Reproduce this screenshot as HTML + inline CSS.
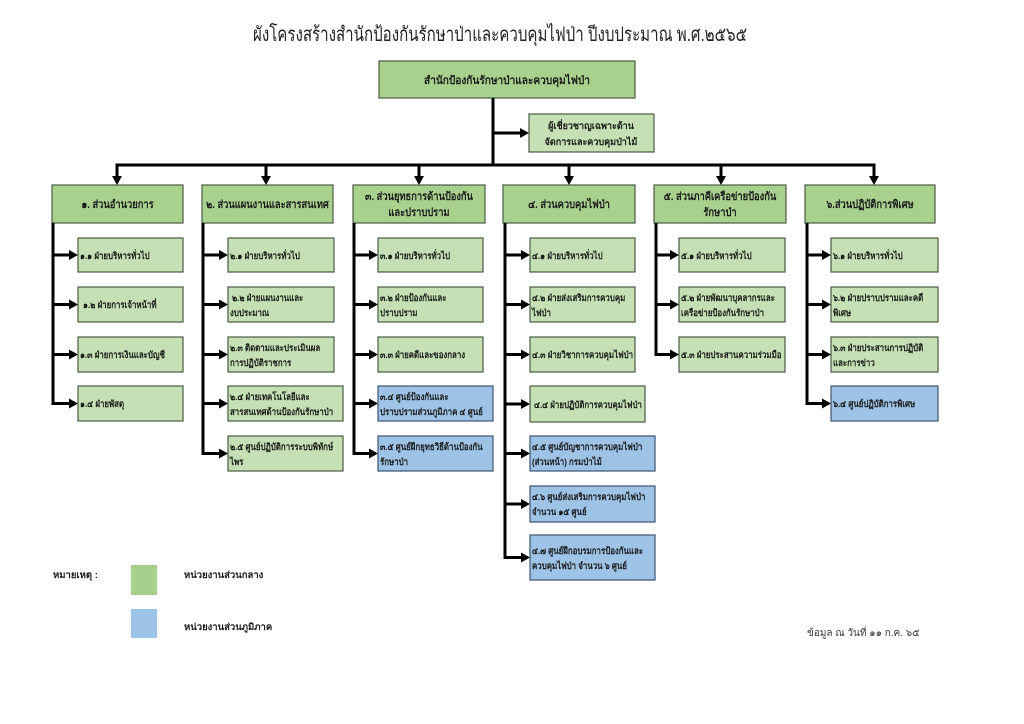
<!DOCTYPE html>
<html>
<head>
<meta charset="utf-8">
<style>
  html,body{margin:0;padding:0;background:#fff;}
  svg{display:block;}
  text{font-family:"Liberation Sans","DejaVu Sans",sans-serif;fill:#1a1a1a;}
  .t{font-size:20px;fill:#222;}
  .h{font-size:11px;font-weight:bold;text-anchor:middle;}
  .c{font-size:9.5px;font-weight:bold;}
  .g1{fill:#a9d18e;stroke:#4a5a44;stroke-width:1.2;}
  .g2{fill:#c5e0b4;stroke:#4a5a44;stroke-width:1.2;}
  .b{fill:#9dc3e6;stroke:#3e5470;stroke-width:1.2;}
  .ln{stroke:#000;stroke-width:3;fill:none;}
</style>
</head>
<body>
<svg width="1024" height="724" viewBox="0 0 1024 724" xmlns="http://www.w3.org/2000/svg">
  <!-- Title -->
  <text class="t" x="500" y="41" text-anchor="middle" textLength="494" lengthAdjust="spacingAndGlyphs">ผังโครงสร้างสำนักป้องกันรักษาป่าและควบคุมไฟป่า ปีงบประมาณ พ.ศ.๒๕๖๕</text>

  <!-- Top box -->
  <rect class="g1" x="379" y="61" width="256" height="37"/>
  <text class="h" transform="translate(507,84) scale(.92,1)">สำนักป้องกันรักษาป่าและควบคุมไฟป่า</text>

  <!-- Trunk -->
  <line class="ln" x1="493" y1="98" x2="493" y2="166.5"/>
  <line class="ln" x1="493" y1="133" x2="522" y2="133"/>
  <polygon points="529,133 520,128 520,138" fill="#000"/>
  <rect class="g2" x="529" y="114" width="125" height="38"/>
  <text class="c" text-anchor="middle" transform="translate(591,129) scale(.95,1)">ผู้เชี่ยวชาญเฉพาะด้าน</text>
  <text class="c" text-anchor="middle" transform="translate(591,145) scale(.95,1)">จัดการและควบคุมป่าไม้</text>

  <!-- Horizontal bus -->
  <line class="ln" x1="115.5" y1="165" x2="875.5" y2="165"/>
  <g>
    <line class="ln" x1="117" y1="165" x2="117" y2="178"/><polygon points="117,185 112,176 122,176" fill="#000"/>
    <line class="ln" x1="266" y1="165" x2="266" y2="178"/><polygon points="266,185 261,176 271,176" fill="#000"/>
    <line class="ln" x1="419" y1="165" x2="419" y2="178"/><polygon points="419,185 414,176 424,176" fill="#000"/>
    <line class="ln" x1="569" y1="165" x2="569" y2="178"/><polygon points="569,185 564,176 574,176" fill="#000"/>
    <line class="ln" x1="721" y1="165" x2="721" y2="178"/><polygon points="721,185 716,176 726,176" fill="#000"/>
    <line class="ln" x1="874" y1="165" x2="874" y2="178"/><polygon points="874,185 869,176 879,176" fill="#000"/>
  </g>

  <!-- Level 1 boxes -->
  <rect class="g1" x="52" y="185" width="131" height="38"/>
  <text class="h" transform="translate(117.5,208) scale(.85,1)">๑. ส่วนอำนวยการ</text>

  <rect class="g1" x="202" y="185" width="131" height="38"/>
  <text class="h" transform="translate(267.5,208) scale(.85,1)">๒. ส่วนแผนงานและสารสนเทศ</text>

  <rect class="g1" x="353" y="185" width="132" height="38"/>
  <text class="h" transform="translate(419,200) scale(.85,1)">๓. ส่วนยุทธการด้านป้องกัน</text>
  <text class="h" transform="translate(419,216) scale(.85,1)">และปราบปราม</text>

  <rect class="g1" x="503" y="185" width="132" height="38"/>
  <text class="h" transform="translate(569,208) scale(.85,1)">๔. ส่วนควบคุมไฟป่า</text>

  <rect class="g1" x="654" y="185" width="132" height="38"/>
  <text class="h" transform="translate(720,200) scale(.85,1)">๕. ส่วนภาคีเครือข่ายป้องกัน</text>
  <text class="h" transform="translate(720,216) scale(.85,1)">รักษาป่า</text>

  <rect class="g1" x="805" y="185" width="130" height="38"/>
  <text class="h" transform="translate(870,208) scale(.85,1)">๖.ส่วนปฏิบัติการพิเศษ</text>

  <!-- Column 1 -->
  <line class="ln" x1="53" y1="223" x2="53" y2="405"/>
  <line class="ln" x1="51.5" y1="255" x2="71" y2="255"/><polygon points="78,255 69,250 69,260" fill="#000"/>
  <line class="ln" x1="51.5" y1="304.5" x2="71" y2="304.5"/><polygon points="78,304.5 69,299.5 69,309.5" fill="#000"/>
  <line class="ln" x1="51.5" y1="354.5" x2="71" y2="354.5"/><polygon points="78,354.5 69,349.5 69,359.5" fill="#000"/>
  <line class="ln" x1="51.5" y1="403.5" x2="71" y2="403.5"/><polygon points="78,403.5 69,398.5 69,408.5" fill="#000"/>
  <rect class="g2" x="78" y="238" width="105" height="34"/>
  <text class="c" transform="translate(80,259) scale(.83,1)">๑.๑ ฝ่ายบริหารทั่วไป</text>
  <rect class="g2" x="78" y="287" width="105" height="35"/>
  <text class="c" transform="translate(83,308) scale(.83,1)">๑.๒ ฝ่ายการเจ้าหน้าที่</text>
  <rect class="g2" x="78" y="337" width="105" height="35"/>
  <text class="c" transform="translate(80,358) scale(.83,1)">๑.๓ ฝ่ายการเงินและบัญชี</text>
  <rect class="g2" x="78" y="386" width="105" height="35"/>
  <text class="c" transform="translate(80,407) scale(.83,1)">๑.๔ ฝ่ายพัสดุ</text>

  <!-- Column 2 -->
  <line class="ln" x1="203" y1="223" x2="203" y2="455"/>
  <line class="ln" x1="201.5" y1="255" x2="221" y2="255"/><polygon points="228,255 219,250 219,260" fill="#000"/>
  <line class="ln" x1="201.5" y1="304.5" x2="221" y2="304.5"/><polygon points="228,304.5 219,299.5 219,309.5" fill="#000"/>
  <line class="ln" x1="201.5" y1="354.5" x2="221" y2="354.5"/><polygon points="228,354.5 219,349.5 219,359.5" fill="#000"/>
  <line class="ln" x1="201.5" y1="403.5" x2="221" y2="403.5"/><polygon points="228,403.5 219,398.5 219,408.5" fill="#000"/>
  <line class="ln" x1="201.5" y1="453.5" x2="221" y2="453.5"/><polygon points="228,453.5 219,448.5 219,458.5" fill="#000"/>
  <rect class="g2" x="228" y="238" width="106" height="34"/>
  <text class="c" transform="translate(230,259) scale(.83,1)">๒.๑ ฝ่ายบริหารทั่วไป</text>
  <rect class="g2" x="228" y="287" width="106" height="35"/>
  <text class="c" transform="translate(232,301) scale(.83,1)">๒.๒ ฝ่ายแผนงานและ</text>
  <text class="c" transform="translate(230,316) scale(.83,1)">งบประมาณ</text>
  <rect class="g2" x="228" y="337" width="106" height="35"/>
  <text class="c" transform="translate(230,351) scale(.83,1)">๒.๓ ติดตามและประเมินผล</text>
  <text class="c" transform="translate(230,366) scale(.83,1)">การปฏิบัติราชการ</text>
  <rect class="g2" x="228" y="386" width="115" height="35"/>
  <text class="c" transform="translate(230,400) scale(.83,1)">๒.๔ ฝ่ายเทคโนโลยีและ</text>
  <text class="c" transform="translate(230,415) scale(.83,1)">สารสนเทศด้านป้องกันรักษาป่า</text>
  <rect class="g2" x="228" y="436" width="115" height="35"/>
  <text class="c" transform="translate(230,450) scale(.83,1)">๒.๕ ศูนย์ปฏิบัติการระบบพิทักษ์</text>
  <text class="c" transform="translate(230,465) scale(.83,1)">ไพร</text>

  <!-- Column 3 -->
  <line class="ln" x1="354" y1="223" x2="354" y2="455"/>
  <line class="ln" x1="352.5" y1="255" x2="371" y2="255"/><polygon points="378,255 369,250 369,260" fill="#000"/>
  <line class="ln" x1="352.5" y1="304.5" x2="371" y2="304.5"/><polygon points="378,304.5 369,299.5 369,309.5" fill="#000"/>
  <line class="ln" x1="352.5" y1="354.5" x2="371" y2="354.5"/><polygon points="378,354.5 369,349.5 369,359.5" fill="#000"/>
  <line class="ln" x1="352.5" y1="403.5" x2="371" y2="403.5"/><polygon points="378,403.5 369,398.5 369,408.5" fill="#000"/>
  <line class="ln" x1="352.5" y1="453.5" x2="371" y2="453.5"/><polygon points="378,453.5 369,448.5 369,458.5" fill="#000"/>
  <rect class="g2" x="378" y="238" width="105" height="34"/>
  <text class="c" transform="translate(380,259) scale(.83,1)">๓.๑ ฝ่ายบริหารทั่วไป</text>
  <rect class="g2" x="378" y="287" width="105" height="35"/>
  <text class="c" transform="translate(380,301) scale(.83,1)">๓.๒  ฝ่ายป้องกันและ</text>
  <text class="c" transform="translate(380,316) scale(.83,1)">ปราบปราม</text>
  <rect class="g2" x="378" y="337" width="105" height="35"/>
  <text class="c" transform="translate(380,358) scale(.83,1)">๓.๓ ฝ่ายคดีและของกลาง</text>
  <rect class="b" x="378" y="386" width="115" height="35"/>
  <text class="c" transform="translate(380,400) scale(.83,1)">๓.๔ ศูนย์ป้องกันและ</text>
  <text class="c" transform="translate(380,415) scale(.83,1)">ปราบปรามส่วนภูมิภาค ๔ ศูนย์</text>
  <rect class="b" x="378" y="436" width="115" height="35"/>
  <text class="c" transform="translate(380,450) scale(.83,1)">๓.๕ ศูนย์ฝึกยุทธวิธีด้านป้องกัน</text>
  <text class="c" transform="translate(380,465) scale(.83,1)">รักษาป่า</text>

  <!-- Column 4 -->
  <line class="ln" x1="505" y1="223" x2="505" y2="559"/>
  <line class="ln" x1="503.5" y1="255" x2="523" y2="255"/><polygon points="530,255 521,250 521,260" fill="#000"/>
  <line class="ln" x1="503.5" y1="304.5" x2="523" y2="304.5"/><polygon points="530,304.5 521,299.5 521,309.5" fill="#000"/>
  <line class="ln" x1="503.5" y1="354.5" x2="523" y2="354.5"/><polygon points="530,354.5 521,349.5 521,359.5" fill="#000"/>
  <line class="ln" x1="503.5" y1="404" x2="523" y2="404"/><polygon points="530,404 521,399 521,409" fill="#000"/>
  <line class="ln" x1="503.5" y1="453.5" x2="523" y2="453.5"/><polygon points="530,453.5 521,448.5 521,458.5" fill="#000"/>
  <line class="ln" x1="503.5" y1="504" x2="523" y2="504"/><polygon points="530,504 521,499 521,509" fill="#000"/>
  <line class="ln" x1="503.5" y1="557.5" x2="523" y2="557.5"/><polygon points="530,557.5 521,552.5 521,562.5" fill="#000"/>
  <rect class="g2" x="530" y="238" width="105" height="34"/>
  <text class="c" transform="translate(532,259) scale(.83,1)">๔.๑ ฝ่ายบริหารทั่วไป</text>
  <rect class="g2" x="530" y="287" width="105" height="35"/>
  <text class="c" transform="translate(532,301) scale(.83,1)">๔.๒ ฝ่ายส่งเสริมการควบคุม</text>
  <text class="c" transform="translate(532,316) scale(.83,1)">ไฟป่า</text>
  <rect class="g2" x="530" y="337" width="105" height="35"/>
  <text class="c" transform="translate(532,358) scale(.83,1)">๔.๓ ฝ่ายวิชาการควบคุมไฟป่า</text>
  <rect class="g2" x="530" y="386" width="115" height="36"/>
  <text class="c" transform="translate(534,408) scale(.83,1)">๔.๔ ฝ่ายปฏิบัติการควบคุมไฟป่า</text>
  <rect class="b" x="530" y="436" width="125" height="35"/>
  <text class="c" transform="translate(532,450) scale(.83,1)">๔.๕ ศูนย์บัญชาการควบคุมไฟป่า</text>
  <text class="c" transform="translate(532,465) scale(.83,1)">(ส่วนหน้า) กรมป่าไม้</text>
  <rect class="b" x="530" y="486" width="125" height="36"/>
  <text class="c" transform="translate(532,500) scale(.83,1)">๔.๖ ศูนย์ส่งเสริมการควบคุมไฟป่า</text>
  <text class="c" transform="translate(532,515) scale(.83,1)">จำนวน ๑๕ ศูนย์</text>
  <rect class="b" x="530" y="535" width="125" height="45"/>
  <text class="c" transform="translate(532,554) scale(.83,1)">๔.๗ ศูนย์ฝึกอบรมการป้องกันและ</text>
  <text class="c" transform="translate(532,569) scale(.83,1)">ควบคุมไฟป่า จำนวน ๖ ศูนย์</text>

  <!-- Column 5 -->
  <line class="ln" x1="656" y1="223" x2="656" y2="356"/>
  <line class="ln" x1="654.5" y1="255" x2="672" y2="255"/><polygon points="679,255 670,250 670,260" fill="#000"/>
  <line class="ln" x1="654.5" y1="304.5" x2="672" y2="304.5"/><polygon points="679,304.5 670,299.5 670,309.5" fill="#000"/>
  <line class="ln" x1="654.5" y1="354.5" x2="672" y2="354.5"/><polygon points="679,354.5 670,349.5 670,359.5" fill="#000"/>
  <rect class="g2" x="679" y="238" width="106" height="34"/>
  <text class="c" transform="translate(681,259) scale(.83,1)">๕.๑ ฝ่ายบริหารทั่วไป</text>
  <rect class="g2" x="679" y="287" width="106" height="35"/>
  <text class="c" transform="translate(681,301) scale(.83,1)">๕.๒ ฝ่ายพัฒนาบุคลากรและ</text>
  <text class="c" transform="translate(681,316) scale(.83,1)">เครือข่ายป้องกันรักษาป่า</text>
  <rect class="g2" x="679" y="337" width="106" height="35"/>
  <text class="c" transform="translate(681,358) scale(.83,1)">๕.๓ ฝ่ายประสานความร่วมมือ</text>

  <!-- Column 6 -->
  <line class="ln" x1="807" y1="223" x2="807" y2="405"/>
  <line class="ln" x1="805.5" y1="255" x2="824" y2="255"/><polygon points="831,255 822,250 822,260" fill="#000"/>
  <line class="ln" x1="805.5" y1="304.5" x2="824" y2="304.5"/><polygon points="831,304.5 822,299.5 822,309.5" fill="#000"/>
  <line class="ln" x1="805.5" y1="354.5" x2="824" y2="354.5"/><polygon points="831,354.5 822,349.5 822,359.5" fill="#000"/>
  <line class="ln" x1="805.5" y1="403.5" x2="824" y2="403.5"/><polygon points="831,403.5 822,398.5 822,408.5" fill="#000"/>
  <rect class="g2" x="831" y="238" width="107" height="34"/>
  <text class="c" transform="translate(833,259) scale(.83,1)">๖.๑ ฝ่ายบริหารทั่วไป</text>
  <rect class="g2" x="831" y="287" width="107" height="35"/>
  <text class="c" transform="translate(833,301) scale(.83,1)">๖.๒ ฝ่ายปราบปรามและคดี</text>
  <text class="c" transform="translate(833,316) scale(.83,1)">พิเศษ</text>
  <rect class="g2" x="831" y="337" width="107" height="35"/>
  <text class="c" transform="translate(833,351) scale(.83,1)">๖.๓ ฝ่ายประสานการปฏิบัติ</text>
  <text class="c" transform="translate(833,366) scale(.83,1)">และการข่าว</text>
  <rect class="b" x="831" y="386" width="107" height="35"/>
  <text class="c" transform="translate(833,407) scale(.83,1)">๖.๔ ศูนย์ปฏิบัติการพิเศษ</text>

  <!-- Legend -->
  <text class="c" x="53" y="578">หมายเหตุ :</text>
  <rect x="131" y="565" width="26" height="30" fill="#a8d08d"/>
  <text class="c" x="184" y="578">หน่วยงานส่วนกลาง</text>
  <rect x="131" y="609" width="26" height="29" fill="#9dc3e6"/>
  <text class="c" x="184" y="630">หน่วยงานส่วนภูมิภาค</text>

  <!-- Footer -->
  <text class="c" x="807" y="636" style="font-weight:normal;fill:#333;font-size:10px;">ข้อมูล ณ วันที่ ๑๑ ก.ค. ๖๕</text>
</svg>
</body>
</html>
